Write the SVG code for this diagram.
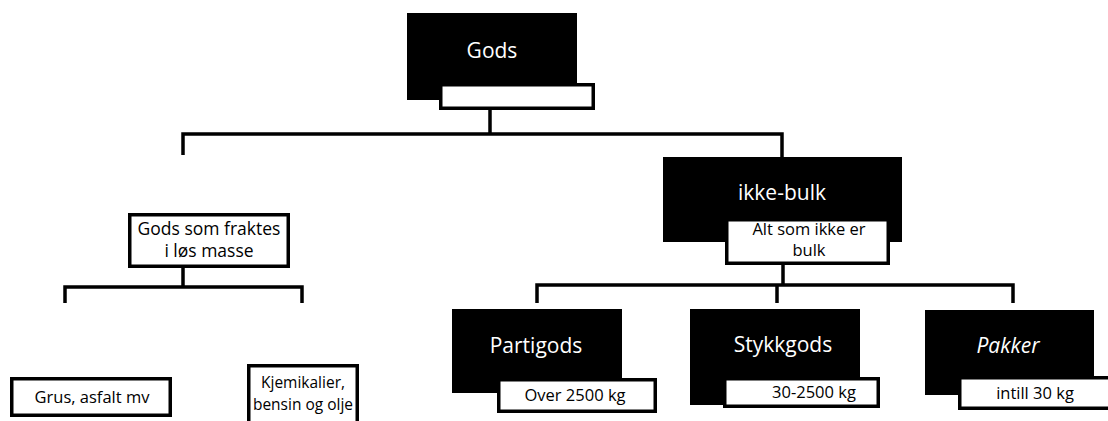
<svg xmlns="http://www.w3.org/2000/svg" width="1108" height="421" viewBox="0 0 1108 421">
<style>
.blk{fill:#000}
.lbl{fill:#fff;stroke:#000;stroke-width:3.5}
.big{font-family:"Open Sans","Liberation Sans",sans-serif;font-size:21px;fill:#fff;text-anchor:middle}
.sm{font-family:"Open Sans","Liberation Sans",sans-serif;font-size:16.5px;fill:#000;text-anchor:middle}
.ln{fill:none;stroke:#000;stroke-width:3.5;stroke-linejoin:miter}
</style>
<rect width="1108" height="421" fill="#fff"/>
<g id="connectors">
<path class="ln" d="M490 110V134M183 155V134H782V157"/>
<path class="ln" d="M183 268V287M65 303V287H302V303"/>
<path class="ln" d="M783 265V285M537 303V285H1013V303M777 285V303"/>
</g>
<g id="gods">
<rect class="blk" x="407" y="13" width="170" height="87"/>
<rect class="lbl" x="440.75" y="84.75" width="152.5" height="23.5"/>
<text class="big" x="492" y="58">Gods</text>
</g>
<g id="bulk">
<rect class="lbl" x="129.75" y="214.75" width="158.5" height="51.5"/>
<text class="sm" x="209" y="235" style="font-size:17.5px">Gods som fraktes</text>
<text class="sm" x="209" y="257" style="font-size:17.5px">i løs masse</text>
</g>
<g id="grus">
<rect class="lbl" x="11.75" y="378.75" width="158.5" height="36.5"/>
<text class="sm" x="92" y="403">Grus, asfalt mv</text>
</g>
<g id="kjemikalier">
<rect class="lbl" x="248.75" y="365.75" width="108.5" height="62"/>
<text class="sm" x="303" y="388" style="font-size:15.5px">Kjemikalier,</text>
<text class="sm" x="303" y="410" style="font-size:15.5px">bensin og olje</text>
</g>
<g id="ikke-bulk">
<rect class="blk" x="663" y="157" width="239" height="85"/>
<rect class="lbl" x="726.75" y="219.75" width="161.5" height="43.5"/>
<text class="big" x="782" y="200">ikke-bulk</text>
<text class="sm" x="809" y="235">Alt som ikke er</text>
<text class="sm" x="809" y="256">bulk</text>
</g>
<g id="partigods">
<rect class="blk" x="452" y="309" width="170" height="84"/>
<rect class="lbl" x="498.75" y="379.75" width="156.5" height="31.5"/>
<text class="big" x="536" y="353">Partigods</text>
<text class="sm" x="575" y="401">Over 2500 kg</text>
</g>
<g id="stykkgods">
<rect class="blk" x="690" y="309" width="170" height="96"/>
<rect class="lbl" x="724.75" y="378.75" width="153.5" height="27.5"/>
<text class="big" x="783" y="352">Stykkgods</text>
<text class="sm" x="814" y="398">30-2500 kg</text>
</g>
<g id="pakker">
<rect class="blk" x="925" y="310" width="169" height="85"/>
<rect class="lbl" x="959.75" y="377.75" width="152" height="30.5"/>
<text class="big" x="1008" y="353" style="font-style:italic">Pakker</text>
<text class="sm" x="1035" y="399">intill 30 kg</text>
</g>
</svg>
